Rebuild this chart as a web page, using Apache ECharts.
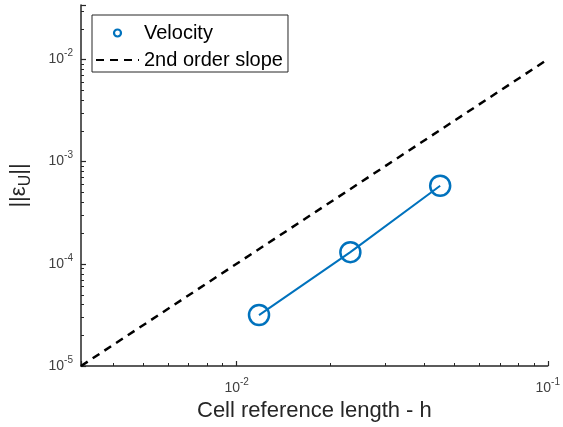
<!DOCTYPE html>
<html>
<head>
<meta charset="utf-8">
<script src="https://cdn.jsdelivr.net/npm/echarts@6/dist/echarts.min.js"></script>
<style>
  html, body { margin: 0; padding: 0; background: #fff; }
  #chart { width: 563px; height: 427px; }
</style>
</head>
<body>
<div id="chart"></div>
<script>
// Convergence data: cell reference length h vs. velocity error norm
const cellLength = [0.0118, 0.0232, 0.0451];
const velocityError = [3.15e-5, 1.3e-4, 5.8e-4];

// Second-order reference line (error ~ h^2)
const slopeLength = [0.00316, 0.1];
const slopeError = [1e-5, 1e-2];

// Decades that carry a 10^n label on each axis
const xDecades = [-2, -1];
const yDecades = [-5, -4, -3, -2];

// Axis ranges
const X_MIN = 0.00316, X_MAX = 0.1;
const Y_MIN = 1e-5, Y_MAX = 0.034;

const FONT = '"Liberation Sans", Arial, Helvetica, sans-serif';
const AXIS_COLOR = '#262626';
const BLUE = '#0072BD';

function decadeLabel(decades) {
  return function (value) {
    const e = Math.log10(value);
    const r = Math.round(e);
    if (Math.abs(e - r) > 1e-6 || decades.indexOf(r) < 0) return '';
    return '{b|10}{s|' + r + '}';
  };
}

const labelRich = {
  b: { fontFamily: FONT, fontSize: 14, lineHeight: 22, color: '#404040' },
  s: { fontFamily: FONT, fontSize: 10, lineHeight: 12, verticalAlign: 'top', color: '#404040' }
};

const chart = echarts.init(document.getElementById('chart'), null, { renderer: 'canvas' });

chart.setOption({
  animation: false,
  backgroundColor: '#fff',
  grid: { left: 81, right: 14, top: 5, bottom: 61, containLabel: false },
  legend: {
    orient: 'vertical',
    left: 92,
    top: 15,
    padding: [8, 5, 2, 3],
    itemWidth: 43,
    itemHeight: 7,
    itemGap: 7,
    borderColor: AXIS_COLOR,
    borderWidth: 1,
    backgroundColor: '#fff',
    selectedMode: false,
    textStyle: { fontFamily: FONT, fontSize: 20, lineHeight: 20, color: '#000' },
    data: [
      { name: 'Velocity', icon: 'circle',
        itemStyle: { color: '#fff', borderColor: BLUE, borderWidth: 2.2 } },
      { name: '2nd order slope',
        itemStyle: { color: 'rgba(0,0,0,0)', borderColor: 'rgba(0,0,0,0)', borderWidth: 0 } }
    ]
  },
  xAxis: {
    type: 'log',
    logBase: 10,
    min: X_MIN,
    max: X_MAX,
    name: 'Cell reference length - h',
    nameLocation: 'middle',
    nameGap: 33,
    nameTextStyle: { fontFamily: FONT, fontSize: 22, color: AXIS_COLOR },
    axisLine: { show: true, onZero: false, lineStyle: { color: AXIS_COLOR, width: 1.5 } },
    axisTick: { show: true, inside: true, length: 5, lineStyle: { color: AXIS_COLOR, width: 1.2 } },
    axisLabel: { formatter: decadeLabel(xDecades), margin: 11, rich: labelRich, showMinLabel: true, showMaxLabel: true },
    splitLine: { show: false },
    minorTick: { show: false }
  },
  yAxis: {
    type: 'log',
    logBase: 10,
    min: Y_MIN,
    max: Y_MAX,
    name: '||ε{u|U}||',
    nameLocation: 'middle',
    nameRotate: 90,
    nameGap: 47,
    nameTextStyle: {
      fontFamily: FONT, fontSize: 22, color: AXIS_COLOR,
      rich: { u: { fontFamily: FONT, fontSize: 16, color: AXIS_COLOR, padding: [14, 0, 0, 0] } }
    },
    axisLine: { show: true, onZero: false, lineStyle: { color: AXIS_COLOR, width: 1.5 } },
    axisTick: { show: true, inside: true, length: 5, lineStyle: { color: AXIS_COLOR, width: 1.2 } },
    axisLabel: { formatter: decadeLabel(yDecades), margin: 8, rich: labelRich },
    splitLine: { show: false }
  },
  series: [
    {
      name: 'Velocity',
      type: 'line',
      data: cellLength.map((h, i) => [h, velocityError[i]]),
      symbol: 'circle',
      symbolSize: 20,
      showSymbol: true,
      lineStyle: { color: BLUE, width: 2 },
      itemStyle: { color: 'rgba(255,255,255,0)', borderColor: BLUE, borderWidth: 2.5 },
      z: 3
    },
    {
      name: '2nd order slope',
      type: 'line',
      data: slopeLength.map((h, i) => [h, slopeError[i]]),
      symbol: 'none',
      lineStyle: { color: '#000', width: 2.5, type: [8, 6] },
      itemStyle: { color: '#000' },
      z: 2
    }
  ]
});

// Minor ticks at 2..9 x 10^n, pointing inward like the major ticks
function minorValues(lo, hi) {
  const out = [];
  for (let e = Math.floor(Math.log10(lo)); e <= Math.ceil(Math.log10(hi)); e++) {
    for (let m = 2; m <= 9; m++) {
      const v = m * Math.pow(10, e);
      if (v > lo * 1.0001 && v < hi * 0.9999) out.push(v);
    }
  }
  return out;
}

const minorLen = 3;
const graphics = [];
const origin = chart.convertToPixel({ gridIndex: 0 }, [X_MIN, Y_MIN]);
minorValues(X_MIN, X_MAX).forEach(v => {
  const px = Math.round(chart.convertToPixel({ gridIndex: 0 }, [v, Y_MIN])[0]) + 0.5;
  graphics.push({
    type: 'line', silent: true,
    shape: { x1: px, y1: origin[1], x2: px, y2: origin[1] - minorLen },
    style: { stroke: AXIS_COLOR, lineWidth: 1 }
  });
});
minorValues(Y_MIN, Y_MAX).forEach(v => {
  const py = Math.round(chart.convertToPixel({ gridIndex: 0 }, [X_MIN, v])[1]) + 0.5;
  graphics.push({
    type: 'line', silent: true,
    shape: { x1: origin[0], y1: py, x2: origin[0] + minorLen, y2: py },
    style: { stroke: AXIS_COLOR, lineWidth: 1 }
  });
});
chart.setOption({ graphic: graphics });
</script>
</body>
</html>
